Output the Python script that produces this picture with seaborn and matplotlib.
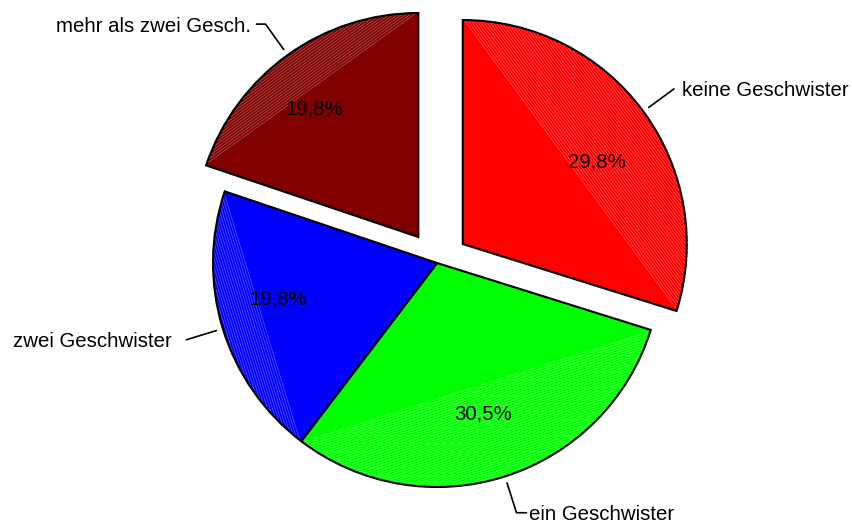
import numpy as np
import matplotlib
matplotlib.use("Agg")
import matplotlib.pyplot as plt
import matplotlib.patches as mpatches
from matplotlib.colors import to_rgb
import seaborn as sns

# --- Data ---
categories = ["keine Geschwister", "ein Geschwister", "zwei Geschwister", "mehr als zwei Gesch."]
shares = [29.8, 30.5, 19.8, 19.8]
colors = ["#ff0000", "#00ff00", "#0000ff", "#800000"]
exploded = [True, False, False, True]

# leader line: horizontal tail and gap to the text (pixels)
tails = [0, 10, 0, 9]
gaps = [8, 3, 15, 5]
# small nudges of the percent labels (pixels)
pct_nudge = [(6, -12), (-2, 1), (-7, 11), (-11, -1)]

sns.set_theme(style="white")
plt.rcParams["font.family"] = ["Liberation Sans", "DejaVu Sans"]

W, H = 853, 523
fig = plt.figure(figsize=(W / 100, H / 100), dpi=100)
ax = fig.add_axes([0, 0, 1, 1])

R = 224
center = (437, 260)
explode = [32 if e else 0 for e in exploded]
FS = 14.7

wedges, _, autotexts = ax.pie(
    shares, colors=colors, startangle=90, counterclock=False,
    explode=explode, radius=R, center=center,
    autopct=lambda p: f"{p:.1f}%".replace(".", ","), pctdistance=0.71,
    textprops=dict(fontsize=FS, color="black"),
    wedgeprops=dict(linewidth=0),
)

# fine lighter stripes in the segment between chord and arc
for w, col in zip(wedges, colors):
    cx, cy = w.center
    t1, t2 = np.deg2rad(w.theta1), np.deg2rad(w.theta2)
    p1 = np.array([cx + R * np.cos(t1), cy + R * np.sin(t1)])
    p2 = np.array([cx + R * np.cos(t2), cy + R * np.sin(t2)])
    d = (p2 - p1) / np.linalg.norm(p2 - p1)
    tm = (t1 + t2) / 2
    n = np.array([np.cos(tm), np.sin(tm)])
    depth = R * (1 - np.cos((t2 - t1) / 2))
    light = tuple(c + (1 - c) * 0.35 for c in to_rgb(col))
    mid = (p1 + p2) / 2
    for off in np.arange(1.2, depth + 2, 2.4):
        a = mid + n * off - d * R * 1.2
        b = mid + n * off + d * R * 1.2
        ln, = ax.plot([a[0], b[0]], [a[1], b[1]], color=light, lw=0.5, zorder=1.5)
        ln.set_clip_path(w)
    ax.add_patch(mpatches.Wedge(w.center, R, w.theta1, w.theta2, fill=False,
                                ec="black", lw=1.5, zorder=2))

# category labels with leader lines
for w, lab, tail, gap in zip(wedges, categories, tails, gaps):
    tm = np.deg2rad((w.theta1 + w.theta2) / 2)
    c = np.array(w.center)
    u = np.array([np.cos(tm), np.sin(tm)])
    start = c + u * R * 1.03
    elbow = c + u * R * 1.17
    side = 1 if u[0] > 0 else -1
    end = elbow + np.array([side * tail, 0])
    ax.plot([start[0], elbow[0], end[0]], [start[1], elbow[1], end[1]],
            color="black", lw=1.2, zorder=3)
    ax.text(end[0] + side * gap, end[1] - 2, lab, ha="left" if side > 0 else "right",
            va="center", fontsize=FS, color="black")

for t, (dx, dy) in zip(autotexts, pct_nudge):
    x, y = t.get_position()
    t.set_position((x + dx, y + dy))
    t.set_zorder(4)

ax.set_xlim(0, W)
ax.set_ylim(0, H)
ax.set_aspect("equal")
ax.axis("off")
fig.savefig("out.png", dpi=100, facecolor="white")
